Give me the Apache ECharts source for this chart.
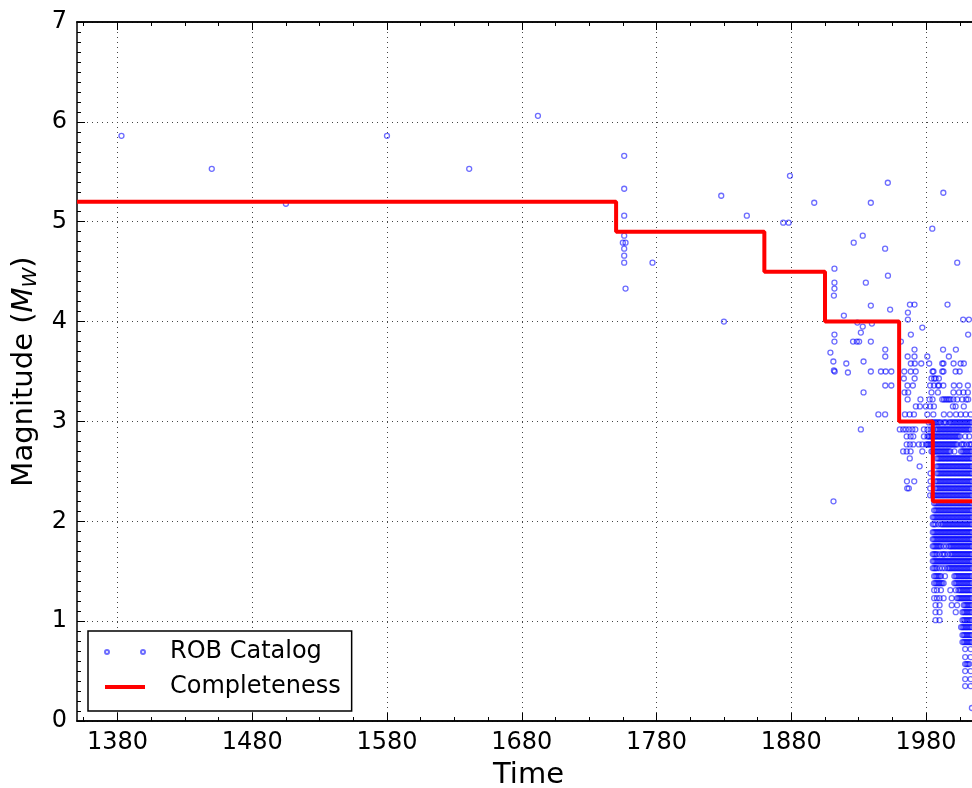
<!DOCTYPE html>
<html>
<head>
<meta charset="utf-8">
<script src="https://cdn.jsdelivr.net/npm/echarts@6/dist/echarts.min.js"></script>
<style>
  html, body { margin: 0; padding: 0; background: #fff; }
  #chart { width: 972px; height: 788px; }
</style>
</head>
<body>
<div id="chart"></div>
<script>
// Tick positions of the time axis (years)
const yearTicks = [1380, 1480, 1580, 1680, 1780, 1880, 1980];
const yearMinorTicks = [1355, 1380, 1405, 1430, 1455, 1480, 1505, 1530, 1555, 1580, 1605, 1630, 1655,
  1680, 1705, 1730, 1755, 1780, 1805, 1830, 1855, 1880, 1905, 1930, 1955, 1980, 2005];

// Completeness magnitude: each period starts at the given year
const completenessYears = [1350, 1750, 1860, 1905, 1960, 1985, 2020];
const completenessMags  = [5.2, 4.9, 4.5, 4.0, 3.0, 2.2, 2.2];

// Historical events [year, Mw]
const historicalEvents = [
  [1383, 5.86], [1450, 5.53], [1505, 5.18], [1580, 5.86], [1641, 5.53], [1692, 6.06],
  [1756, 5.66], [1756, 5.33], [1756, 5.06], [1756, 4.86], [1755, 4.79], [1757, 4.79],
  [1756, 4.73], [1756, 4.66], [1756, 4.59], [1757, 4.33], [1777, 4.59], [1828, 5.26],
  [1830, 4.0], [1847, 5.06], [1874, 4.99], [1878, 4.99], [1879, 5.46], [1897, 5.19]
];

// Early instrumental period, sparse events [year, Mw]
const earlyEvents = [
  [1912, 4.53], [1912, 4.39], [1912, 4.33], [1911.6, 4.26], [1919, 4.06], [1926.3, 4.79],
  [1933, 4.86], [1935.3, 4.39], [1939, 5.19], [1939, 4.16], [1949.6, 4.73], [1951.6, 5.39],
  [1951.7, 4.46], [1953.3, 4.12], [1929, 3.99], [1939.8, 3.98], [1933, 3.95], [1931.6, 3.89],
  [1912, 3.87], [1912, 3.80], [1925.8, 3.80], [1928.6, 3.80], [1930.3, 3.80], [1939, 3.80],
  [1909, 3.69], [1911.2, 3.60], [1920.8, 3.58], [1933.6, 3.60], [1949.7, 3.72], [1949.7, 3.65],
  [1911.6, 3.51], [1912.2, 3.50], [1922, 3.49], [1939, 3.50], [1946.5, 3.50], [1950, 3.50],
  [1954.2, 3.50], [1933.6, 3.29], [1949.7, 3.36], [1954.2, 3.36], [1944.6, 3.07], [1949.6, 3.07],
  [1931.6, 2.92], [1911.3, 2.20],
  [1961.3, 3.80], [1966.5, 4.09], [1966.5, 4.02], [1968, 4.17], [1971.4, 4.17], [1968.7, 3.87],
  [1977.2, 3.94], [1971.4, 3.72], [1966.3, 3.65], [1971.4, 3.65], [1980.9, 3.65], [1968.7, 3.58],
  [1971.6, 3.58], [1976.4, 3.58], [1982.3, 3.58], [1963.8, 3.50], [1968.6, 3.50], [1972.3, 3.50],
  [1963.5, 3.43], [1971.5, 3.43], [1984, 3.43], [1966.2, 3.36], [1970.2, 3.36], [1983, 3.36],
  [1964, 3.29], [1966.7, 3.29], [1984, 3.29], [1966.3, 3.22], [1975.8, 3.22], [1982.6, 3.22],
  [1972.4, 3.15], [1975.4, 3.15], [1979.8, 3.15], [1983, 3.15], [1964.3, 3.07], [1967.8, 3.07],
  [1971, 3.07], [1980.9, 3.07], [1960.5, 2.92], [1963, 2.92], [1965, 2.92], [1967.3, 2.92],
  [1969.8, 2.92], [1972, 2.92], [1978.4, 2.92], [1981, 2.92], [1983.3, 2.92],
  [1965.6, 2.85], [1968.5, 2.85], [1970.5, 2.85], [1978.4, 2.85], [1965.6, 2.77], [1968, 2.77],
  [1970.5, 2.77], [1974.6, 2.77], [1977.2, 2.77], [1963, 2.70], [1965.6, 2.70], [1968.5, 2.70],
  [1977.2, 2.70], [1967.9, 2.63], [1975.2, 2.55], [1983.3, 2.48], [1965.8, 2.40], [1971.2, 2.40],
  [1983.3, 2.40], [1966, 2.33], [1967.2, 2.33], [1983, 2.33], [1983, 2.26]
];

// Recent events above the dense band [year, Mw]
const recentEvents = [
  [1984.6, 4.93], [1992.8, 5.29], [2003.1, 4.59], [1995.9, 4.17], [2007.5, 4.02], [2011.8, 4.02],
  [2011.2, 3.87], [1992.6, 3.72], [2002.1, 3.72], [1996.9, 3.65], [1992, 3.58], [1992.9, 3.58],
  [2000.4, 3.58], [2005.6, 3.58], [2008, 3.58], [1984.8, 3.50], [1985.5, 3.50], [1992, 3.50],
  [1992.9, 3.50], [2001.9, 3.50], [2004.9, 3.50], [1986, 3.43], [1987.1, 3.43], [1989.5, 3.43],
  [1985.8, 3.36], [1988.8, 3.36], [1989.6, 3.36], [1992.8, 3.36], [2000.6, 3.36], [2004.8, 3.36],
  [2011, 3.36], [1988.8, 3.29], [2000.3, 3.29], [2004.4, 3.29], [2007.7, 3.29], [2011, 3.29],
  [1984.8, 3.22], [1992, 3.22], [1993.2, 3.22], [1994.5, 3.22], [1995.8, 3.22], [1997, 3.22],
  [1998.2, 3.22], [2000.2, 3.22], [2003.1, 3.22], [2006.8, 3.22], [2009.8, 3.22], [2011.2, 3.22],
  [1985.8, 3.15], [1999.9, 3.15], [2001.9, 3.15], [2008, 3.15], [1985.4, 3.07], [1993.2, 3.07],
  [1997.7, 3.07], [2002.2, 3.07], [2005.7, 3.07], [2009.4, 3.07], [2013.1, 3.07]
];

// Dense instrumental catalogue, grouped by magnitude: [Mw, years]
const denseRows = [
  [2.99, [1982, 1984, 1985, 1986, 1987, 1988, 1989, 1990, 1991, 1993, 1994, 1995, 1997, 1998, 1999, 2000, 2001, 2002, 2003, 2004, 2005, 2006, 2007, 2008, 2009, 2010, 2011, 2012, 2013, 2014]],
  [2.92, [1985, 1987, 1988, 1989, 1990, 1991, 1992, 1993, 1994, 1995, 1996, 1997, 1998, 1999, 2000, 2001, 2002, 2003, 2004, 2005, 2006, 2007, 2008, 2009, 2010, 2011, 2012, 2013]],
  [2.85, [1981, 1982, 1983, 1984, 1985, 1986, 1987, 1988, 1989, 1990, 1991, 1992, 1993, 1994, 1995, 1996, 1997, 1998, 1999, 2000, 2001, 2002, 2003, 2004, 2005, 2009, 2012]],
  [2.77, [1980, 1981, 1982, 1983, 1984, 1985, 1986, 1987, 1988, 1989, 1990, 1991, 1992, 1993, 1994, 1995, 1996, 1997, 1998, 1999, 2000, 2001, 2002, 2003, 2006, 2007, 2008, 2010, 2012, 2013, 2014]],
  [2.70, [1984, 1985, 1986, 1987, 1988, 1989, 1990, 1991, 1992, 1993, 1994, 1995, 1996, 1997, 1998, 2001, 2006, 2007, 2008, 2009, 2010, 2011, 2012, 2013, 2014]],
  [2.63, [1988, 1989, 1990, 1991, 1992, 1993, 1994, 1995, 1996, 1997, 1998, 1999, 2000, 2001, 2002, 2003, 2004, 2005, 2006, 2007, 2008, 2009, 2010, 2011, 2012, 2013, 2014]],
  [2.55, [1988, 1989, 1990, 1991, 1992, 1993, 1994, 1995, 1996, 1997, 1998, 1999, 2000, 2001, 2002, 2003, 2004, 2005, 2006, 2007, 2008, 2009, 2010, 2011, 2012, 2013, 2014]],
  [2.48, [1988, 1989, 1990, 1991, 1992, 1993, 1994, 1995, 1996, 1997, 1998, 1999, 2000, 2001, 2002, 2003, 2004, 2005, 2006, 2007, 2008, 2009, 2010, 2011, 2012, 2013, 2014]],
  [2.40, [1987, 1988, 1989, 1990, 1991, 1992, 1993, 1994, 1995, 1996, 1997, 1998, 1999, 2000, 2001, 2002, 2003, 2004, 2005, 2006, 2007, 2008, 2009, 2010, 2011, 2012, 2013, 2014]],
  [2.33, [1987, 1988, 1989, 1990, 1991, 1992, 1993, 1994, 1995, 1996, 1997, 1998, 1999, 2000, 2001, 2002, 2003, 2004, 2005, 2006, 2007, 2008, 2009, 2010, 2011, 2012, 2013, 2014]],
  [2.26, [1985, 1986, 1987, 1988, 1989, 1990, 1991, 1992, 1993, 1994, 1995, 1996, 1997, 1998, 1999, 2000, 2001, 2002, 2003, 2004, 2005, 2006, 2007, 2008, 2009, 2010, 2011, 2012, 2013, 2014]],
  [2.18, [1986, 1987, 1988, 1989, 1990, 1991, 1992, 1993, 1994, 1995, 1996, 1997, 1998, 1999, 2000, 2001, 2002, 2003, 2004, 2005, 2006, 2007, 2008, 2009, 2010, 2011, 2012, 2013, 2014]],
  [2.11, [1986, 1987, 1988, 1989, 1990, 1991, 1992, 1993, 1994, 1995, 1996, 1997, 1998, 1999, 2000, 2001, 2002, 2003, 2004, 2005, 2006, 2007, 2008, 2009, 2010, 2011, 2012, 2013, 2014]],
  [2.04, [1985, 1986, 1987, 1988, 1989, 1990, 1991, 1992, 1993, 1994, 1995, 1996, 1997, 1998, 1999, 2000, 2001, 2002, 2003, 2004, 2005, 2006, 2007, 2008, 2009, 2010, 2011, 2012, 2013, 2014]],
  [1.97, [1985, 1986, 1987, 1989, 1991, 1992, 1993, 1994, 1995, 1996, 1997, 1998, 1999, 2000, 2001, 2002, 2003, 2004, 2005, 2006, 2007, 2008, 2009, 2010, 2011, 2012, 2013, 2014]],
  [1.89, [1985, 1986, 1987, 1988, 1989, 1990, 1991, 1992, 1993, 1994, 1995, 1996, 1997, 1998, 1999, 2000, 2001, 2002, 2003, 2004, 2005, 2006, 2007, 2008, 2009, 2010, 2011, 2012, 2013, 2014]],
  [1.82, [1985, 1986, 1987, 1988, 1989, 1990, 1991, 1992, 1993, 1994, 1995, 1996, 1997, 1998, 1999, 2000, 2001, 2002, 2003, 2004, 2005, 2006, 2007, 2008, 2009, 2010, 2011, 2012, 2013, 2014]],
  [1.75, [1985, 1986, 1987, 1988, 1989, 1990, 1991, 1993, 1995, 1997, 1998, 1999, 2000, 2001, 2002, 2003, 2004, 2005, 2006, 2007, 2008, 2009, 2010, 2011, 2012, 2013, 2014]],
  [1.67, [1985, 1986, 1987, 1988, 1990, 1992, 1993, 1994, 1996, 1998, 1999, 2000, 2001, 2002, 2003, 2004, 2005, 2006, 2007, 2008, 2009, 2010, 2011, 2012, 2013, 2014]],
  [1.60, [1985, 1986, 1987, 1988, 1989, 1990, 1991, 1992, 1993, 1994, 1995, 1996, 1997, 1998, 1999, 2000, 2001, 2002, 2003, 2004, 2005, 2006, 2007, 2008, 2009, 2010, 2011, 2012, 2013, 2014]],
  [1.53, [1985, 1986, 1987, 1988, 1990, 1992, 1994, 1996, 1997, 1998, 1999, 2000, 2001, 2002, 2003, 2004, 2005, 2006, 2007, 2008, 2009, 2010, 2011, 2012, 2013, 2014]],
  [1.45, [1986, 1987, 1988, 1989, 1990, 1991, 1994, 2001, 2002, 2003, 2004, 2005, 2006, 2007, 2008, 2009, 2010, 2011, 2012, 2013, 2014]],
  [1.38, [1986, 1987, 1988, 1989, 1990, 1991, 1992, 1993, 2001, 2002, 2003, 2004, 2005, 2006, 2007, 2008, 2009, 2010, 2011, 2012, 2013, 2014]],
  [1.31, [1986, 1988, 1991, 1998, 2002, 2004, 2005, 2006, 2007, 2008, 2009, 2010, 2011, 2012, 2013, 2014]],
  [1.23, [1986, 1988, 1990, 1993, 1999, 2003, 2004, 2005, 2006, 2007, 2008, 2009, 2010, 2011, 2012, 2013, 2014]],
  [1.16, [1987, 1990, 1999, 2003, 2008, 2009, 2010, 2011, 2012, 2013, 2014]],
  [1.09, [1987, 1990, 2002, 2007, 2008, 2009, 2010, 2011, 2012, 2013, 2014]],
  [1.01, [1987, 1990, 2007, 2008, 2009, 2010, 2011, 2012, 2013, 2014]],
  [0.94, [2006, 2007, 2008, 2009, 2010, 2011, 2012, 2013, 2014]],
  [0.86, [2007, 2008, 2009, 2010, 2011, 2012, 2013, 2014]],
  [0.79, [2007, 2008, 2009, 2010, 2011, 2012, 2013, 2014]],
  [0.72, [2009, 2013]],
  [0.64, [2009, 2013]],
  [0.57, [2009, 2010, 2011, 2012]],
  [0.50, [2009, 2013]],
  [0.42, [2009, 2013]],
  [0.35, [2009, 2013]],
  [0.13, [2014]]
];

const catalog = historicalEvents
  .concat(earlyEvents, recentEvents)
  .concat(denseRows.flatMap(([mag, years]) => years.map(y => [y, mag])));

const completeness = completenessYears.map((y, i) => [y, completenessMags[i]]);

const FONT = 'DejaVu Sans';
const gridDots = { color: '#444', width: 1, type: [1, 4] };

function timeAxis(position, ticks, tickLength, withLabels) {
  return {
    type: 'value', min: 1350, max: 2020, position: position,
    axisLine: { show: true, onZero: false, lineStyle: { color: '#000', width: 1.5 } },
    axisTick: { show: true, inside: true, length: tickLength, customValues: ticks,
      lineStyle: { color: '#000', width: 1 } },
    axisLabel: withLabels
      ? { show: true, customValues: ticks, fontSize: 24, fontFamily: FONT, color: '#000', margin: 10,
          formatter: v => String(v) }
      : { show: false },
    splitLine: { show: false }
  };
}

const chart = echarts.init(document.getElementById('chart'), null, { renderer: 'canvas' });

const xMain = timeAxis('bottom', yearTicks, 8, true);
xMain.splitLine = { show: true, lineStyle: gridDots };
xMain.name = 'Time';
xMain.nameLocation = 'middle';
xMain.nameGap = 40;
xMain.nameTextStyle = { fontSize: 29, fontFamily: FONT, color: '#000' };

chart.setOption({
  animation: false,
  textStyle: { fontFamily: FONT },
  grid: { left: 77, top: 22, bottom: 67, right: -8, containLabel: false, outerBoundsMode: 'none' },
  xAxis: [
    xMain,
    timeAxis('bottom', yearMinorTicks, 4, false),
    timeAxis('top', yearTicks, 8, false),
    timeAxis('top', yearMinorTicks, 4, false)
  ],
  yAxis: {
    type: 'value', min: 0, max: 7, interval: 1,
    axisLine: { show: true, onZero: false, lineStyle: { color: '#000', width: 1.5 } },
    axisTick: { show: true, inside: true, length: 8, lineStyle: { color: '#000', width: 1 } },
    minorTick: { show: true, splitNumber: 10, length: 4, lineStyle: { color: '#000', width: 1 } },
    axisLabel: { fontSize: 24, fontFamily: FONT, color: '#000', margin: 10 },
    splitLine: { show: true, lineStyle: gridDots },
    name: '{t|Magnitude (}{m|M}{s|W}{t|)}',
    nameLocation: 'middle',
    nameGap: 36,
    nameRotate: 90,
    nameTextStyle: {
      color: '#000', fontFamily: FONT, fontSize: 29,
      rich: {
        t: { fontSize: 29, fontFamily: FONT, color: '#000' },
        m: { fontSize: 29, fontFamily: FONT, fontStyle: 'italic', color: '#000' },
        s: { fontSize: 20, fontFamily: FONT, fontStyle: 'italic', color: '#000', padding: [12, 0, 0, 0] }
      }
    }
  },
  legend: {
    orient: 'vertical', left: 88, top: 631,
    padding: [7, 11, 10, 16],
    itemWidth: 40, itemHeight: 4, itemGap: 7,
    backgroundColor: '#fff', borderColor: '#000', borderWidth: 1.5, borderRadius: 0,
    textStyle: { fontSize: 24, fontFamily: FONT, color: '#000', padding: [0, 0, 0, 20], lineHeight: 28 },
    data: [
      { name: 'ROB Catalog', icon: 'path://M0,2a2,2 0 1,0 4,0a2,2 0 1,0 -4,0M36,2a2,2 0 1,0 4,0a2,2 0 1,0 -4,0' },
      { name: 'Completeness', icon: 'rect', itemStyle: { color: '#ff0000', borderWidth: 0 } }
    ]
  },
  series: [
    {
      name: 'ROB Catalog', type: 'scatter', xAxisIndex: 0,
      symbol: 'circle', symbolSize: 5,
      itemStyle: { color: 'rgba(0,0,255,0)', borderColor: 'rgba(0,0,255,0.72)', borderWidth: 1.3 },
      emphasis: { disabled: true },
      data: catalog, z: 2
    },
    {
      name: 'Completeness', type: 'line', xAxisIndex: 0,
      step: 'end', symbol: 'none', showSymbol: false,
      lineStyle: { color: '#ff0000', width: 4 },
      itemStyle: { color: '#ff0000' },
      emphasis: { disabled: true },
      data: completeness, z: 3
    }
  ]
});
</script>
</body>
</html>
